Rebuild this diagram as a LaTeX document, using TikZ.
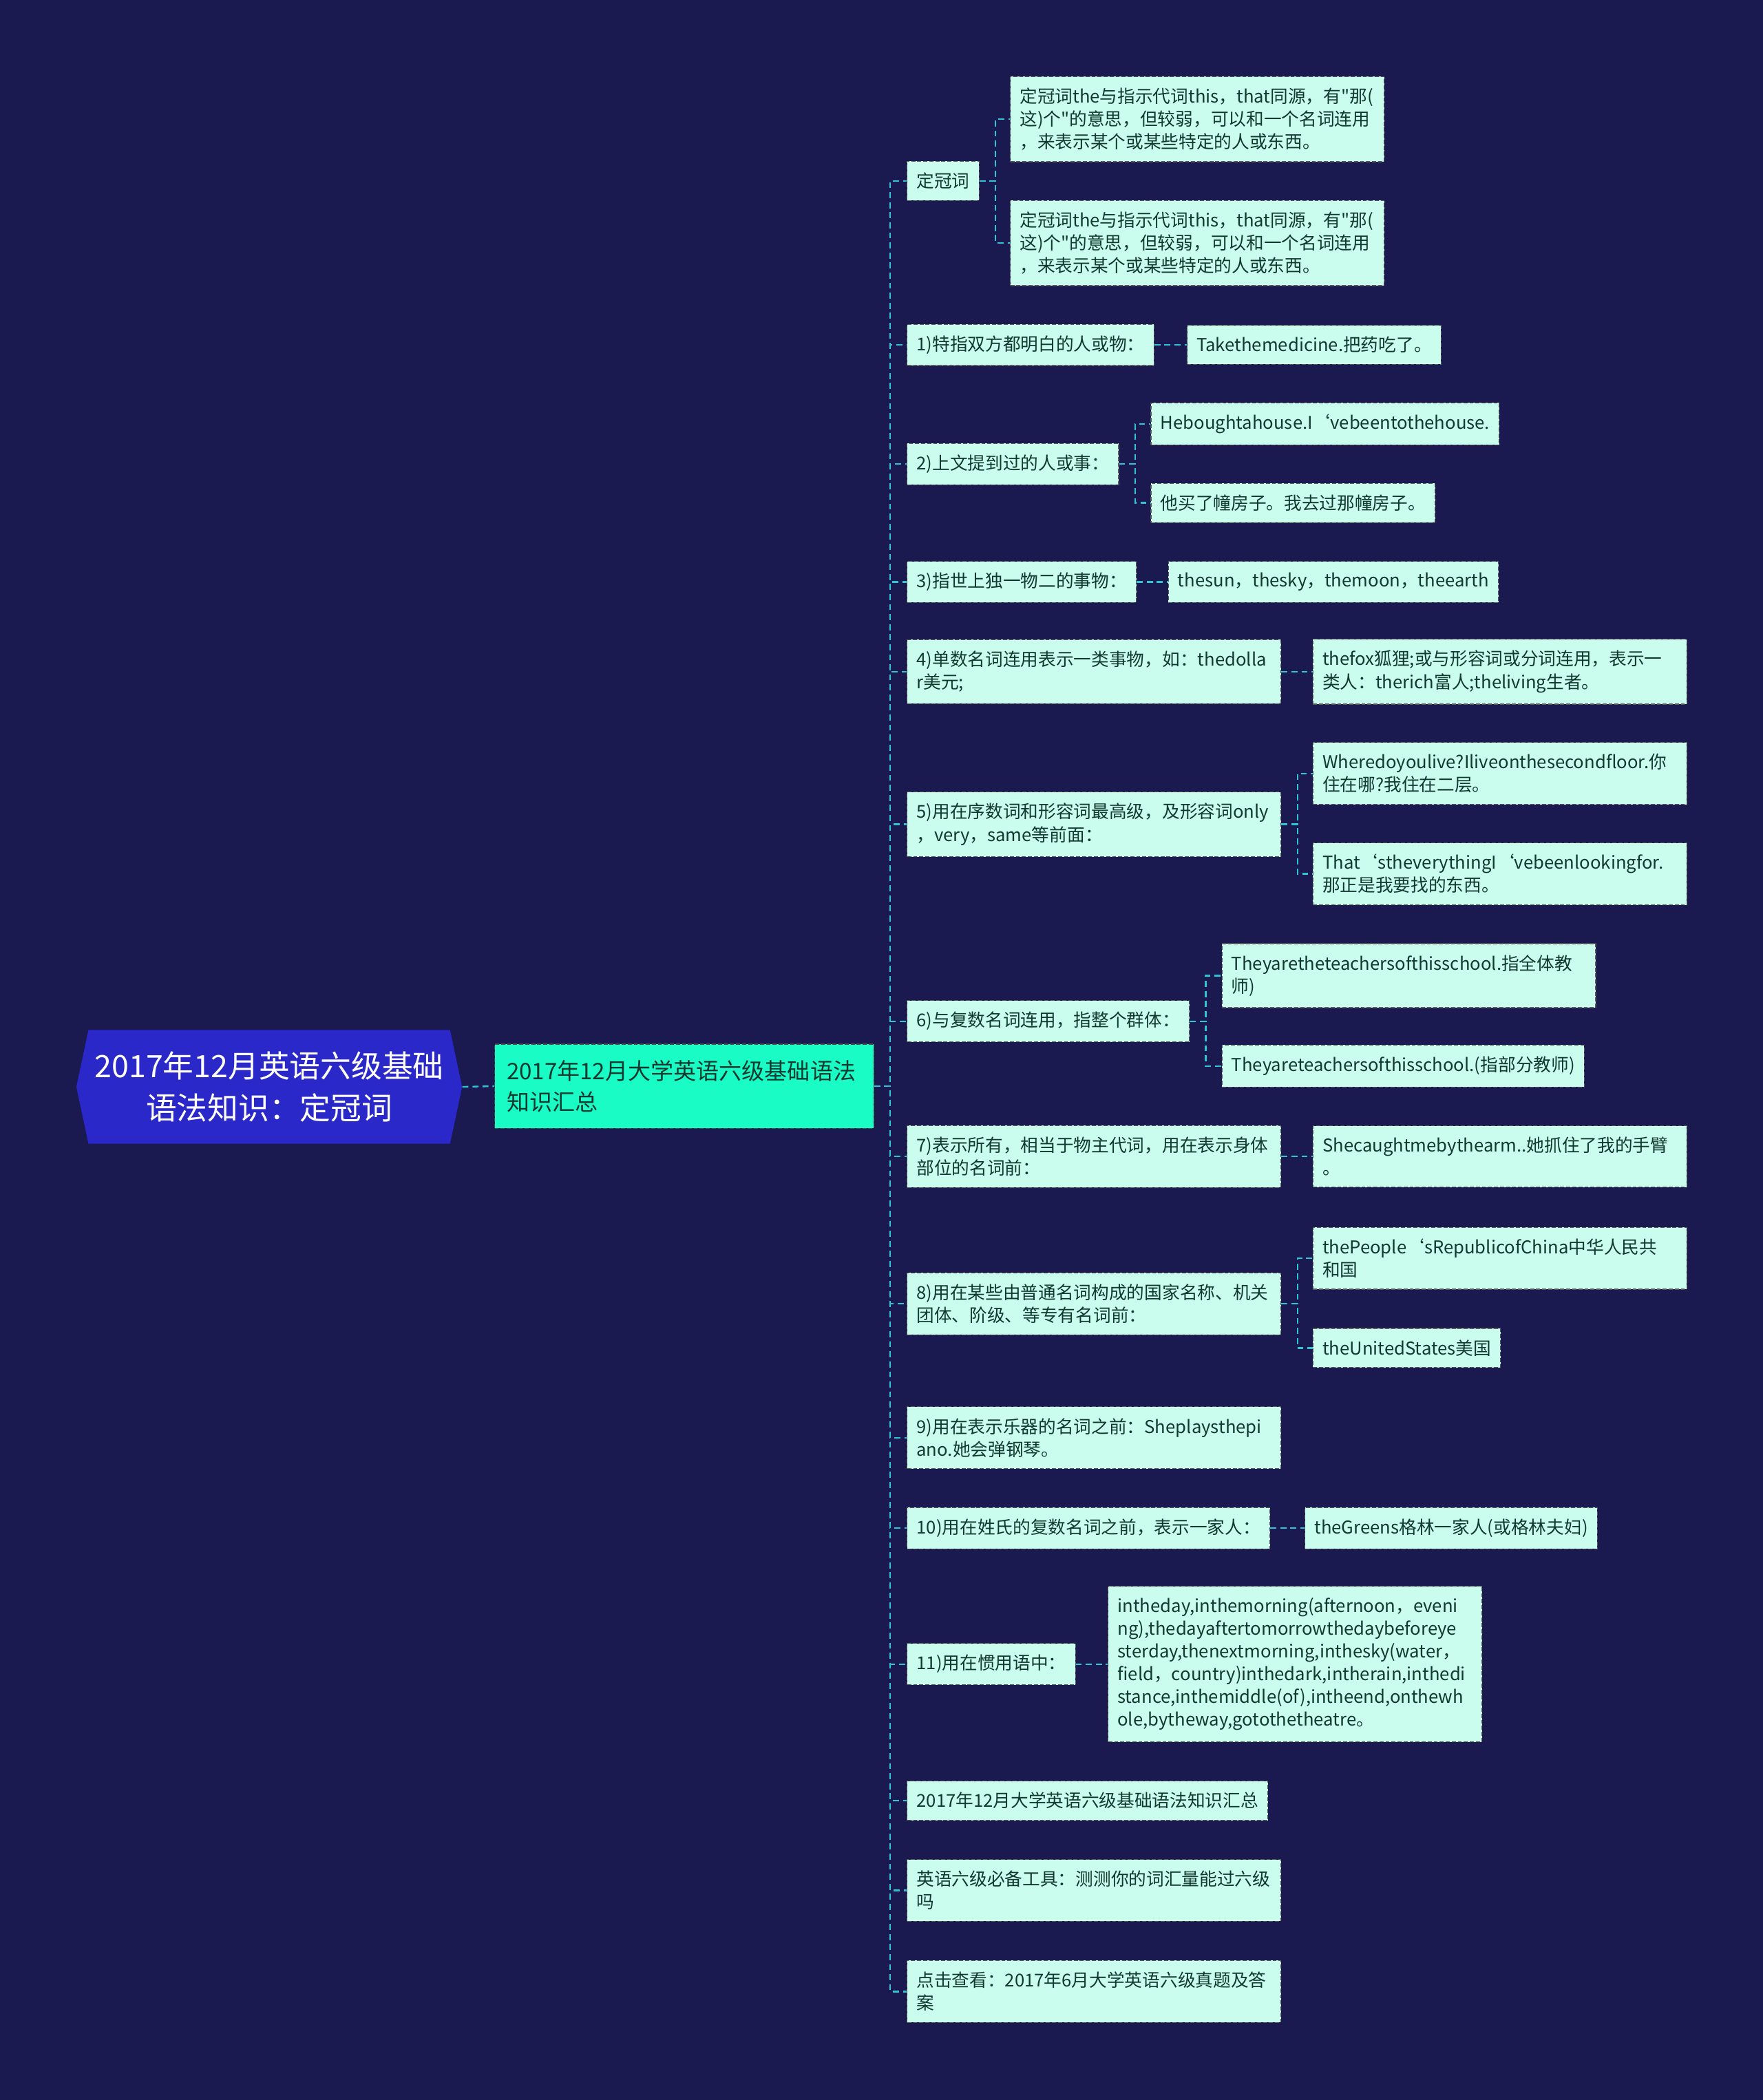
\documentclass[tikz,border=0pt]{standalone}
\usepackage{fontspec}
\setmainfont{Noto Sans CJK SC}[Ligatures=TeXOff]
\usetikzlibrary{shapes.symbols}
\definecolor{bgc}{HTML}{1A1950}
\definecolor{rootc}{HTML}{2A28C9}
\definecolor{topicc}{HTML}{19FCC6}
\definecolor{leafc}{HTML}{CBFDEE}
\definecolor{txtc}{HTML}{12392F}
\definecolor{linec}{HTML}{2FC5D5}
\begin{document}
\begin{tikzpicture}[x=1pt,y=-1pt,
  root/.style={signal, signal to=west and east, signal pointer angle=156, fill=rootc, text=white, minimum width=288, minimum height=85, inner sep=0, align=center, font=\fontsize{23}{31}\selectfont},
  topic/.style={fill=topicc, draw=black!70, line width=0.6pt, dash pattern=on 3pt off 1.5pt, text=txtc, anchor=west, align=left, text width=265, inner xsep=9, inner ysep=12, font=\fontsize{17}{23}\selectfont},
  leaf/.style={fill=leafc, draw=black!65, line width=0.6pt, dash pattern=on 3pt off 1.5pt, text=txtc, anchor=west, align=left, inner xsep=7, inner ysep=8.5, font=\fontsize{13.2}{17}\selectfont},
  wide/.style={text width=265},
  link/.style={draw=linec, line width=1.2pt, dash pattern=on 4.5pt off 3pt}]

\fill [bgc] (0,0) rectangle (1316,1568);
\useasboundingbox (0,0) rectangle (1316,1568);

\node [root] (r) at (201,811.5) {2017年12月英语六级基础\\语法知识：定冠词};
\node [topic] (t) at (369,811) {2017年12月大学英语六级基础语法\\知识汇总};

\node [leaf] (a0) at (677,135) {定冠词};
\node [leaf] (a1) at (677,257.5) {1)特指双方都明白的人或物：};
\node [leaf] (a2) at (677,346.5) {2)上文提到过的人或事：};
\node [leaf] (a3) at (677,434.5) {3)指世上独一物二的事物：};
\node [leaf,wide] (a4) at (677,501.5) {4)单数名词连用表示一类事物，如：thedolla\\r美元;};
\node [leaf,wide] (a5) at (677,615.5) {5)用在序数词和形容词最高级，及形容词only\\，very，same等前面：};
\node [leaf] (a6) at (677,762.5) {6)与复数名词连用，指整个群体：};
\node [leaf,wide] (a7) at (677,863.5) {7)表示所有，相当于物主代词，用在表示身体\\部位的名词前：};
\node [leaf,wide] (a8) at (677,973.5) {8)用在某些由普通名词构成的国家名称、机关\\团体、阶级、等专有名词前：};
\node [leaf,wide] (a9) at (677,1073.5) {9)用在表示乐器的名词之前：Sheplaysthepi\\ano.她会弹钢琴。};
\node [leaf] (a10) at (677,1141) {10)用在姓氏的复数名词之前，表示一家人：};
\node [leaf] (a11) at (677,1242.5) {11)用在惯用语中：};
\node [leaf] (a12) at (677,1344.5) {2017年12月大学英语六级基础语法知识汇总};
\node [leaf,wide] (a13) at (677,1411.5) {英语六级必备工具：测测你的词汇量能过六级\\吗};
\node [leaf,wide] (a14) at (677,1487) {点击查看：2017年6月大学英语六级真题及答\\案};

\node [leaf,wide] (b0) at (754,89) {定冠词the与指示代词this，that同源，有\char34 那(\\这)个\char34 的意思，但较弱，可以和一个名词连用\\，来表示某个或某些特定的人或东西。};
\node [leaf,wide] (b1) at (754,181.5) {定冠词the与指示代词this，that同源，有\char34 那(\\这)个\char34 的意思，但较弱，可以和一个名词连用\\，来表示某个或某些特定的人或东西。};
\node [leaf] (b2) at (886,257.5) {Takethemedicine.把药吃了。};
\node [leaf] (b3) at (859,316.5) {Heboughtahouse.I‘vebeentothehouse.};
\node [leaf] (b4) at (859,375.5) {他买了幢房子。我去过那幢房子。};
\node [leaf] (b5) at (872,434.5) {thesun，thesky，themoon，theearth};
\node [leaf,wide] (b6) at (980,501.5) {thefox狐狸;或与形容词或分词连用，表示一\\类人：therich富人;theliving生者。};
\node [leaf,wide] (b7) at (980,577.5) {Wheredoyoulive?Iliveonthesecondfloor.你\\住在哪?我住在二层。};
\node [leaf,wide] (b8) at (980,652.5) {That‘stheverythingI‘vebeenlookingfor.\\那正是我要找的东西。};
\node [leaf,wide] (b9) at (912,728.5) {Theyaretheteachersofthisschool.指全体教\\师)};
\node [leaf] (b10) at (912,796) {Theyareteachersofthisschool.(指部分教师)};
\node [leaf,wide] (b11) at (980,863.5) {Shecaughtmebythearm..她抓住了我的手臂\\。};
\node [leaf,wide] (b12) at (980,939.5) {thePeople‘sRepublicofChina中华人民共\\和国};
\node [leaf] (b13) at (980,1006.5) {theUnitedStates美国};
\node [leaf] (b14) at (974,1141) {theGreens格林一家人(或格林夫妇)};
\node [leaf,wide] (b15) at (827,1242.5) {intheday,inthemorning(afternoon，eveni\\ng),thedayaftertomorrowthedaybeforeye\\sterday,thenextmorning,inthesky(water，\\field，country)inthedark,intherain,inthedi\\stance,inthemiddle(of),intheend,onthewh\\ole,bytheway,gotothetheatre。};

\draw [link] (r.east) -- (t.west);
\foreach \n in {0,...,14}
  \draw [link] (t.east) -- ++(12,0) |- (a\n.west);
\foreach \p/\c in {a0/b0,a0/b1,a1/b2,a2/b3,a2/b4,a3/b5,a4/b6,a5/b7,a5/b8,a6/b9,a6/b10,a7/b11,a8/b12,a8/b13,a10/b14,a11/b15}
  \draw [link] (\p.east) -- ++(12,0) |- (\c.west);
\end{tikzpicture}
\end{document}
